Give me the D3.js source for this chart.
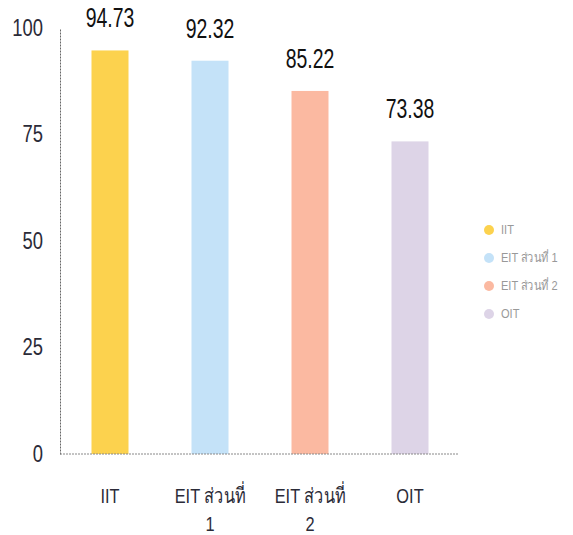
<!DOCTYPE html>
<html>
<head>
<meta charset="utf-8">
<script src="https://cdn.jsdelivr.net/npm/d3@7"></script>
<style>
  body { margin: 0; background: #fff; }
  text { font-family: "Liberation Sans", "Noto Sans", sans-serif; }
</style>
</head>
<body>
<div id="chart"></div>
<script>
// données
var categories = ["IIT", "EIT ส่วนที่ 1", "EIT ส่วนที่ 2", "OIT"];
var labelLines = [["IIT"], ["EIT ส่วนที่", "1"], ["EIT ส่วนที่", "2"], ["OIT"]];
var values = [94.73, 92.32, 85.22, 73.38];
var colors = ["#fcd24e", "#c4e2f8", "#fbb9a1", "#ddd4e7"];
var yTicks = [0, 25, 50, 75, 100];

var width = 573,
    height = 535;

// la police d'origine est étroite : on compresse horizontalement
var NARROW = 0.78;

var svg = d3.select("#chart")
    .append("svg")
    .attr("width", width)
    .attr("height", height);

var x = d3.scaleBand()
    .domain(categories)
    .range([60, 460])
    .paddingInner(0.63)
    .paddingOuter(0.315);

var y = d3.scaleLinear()
    .domain([0, 100])
    .range([454, 28]);

function cx(i) {
    return x(categories[i]) + x.bandwidth() / 2;
}

// axe vertical
var yAxis = svg.append("g")
    .attr("transform", "translate(60,0)")
    .call(d3.axisLeft(y).tickValues(yTicks).tickSize(0).tickPadding(17));
yAxis.select(".domain")
    .attr("stroke", "#666")
    .attr("stroke-dasharray", "2,1");
yAxis.selectAll("text")
    .attr("font-size", 23)
    .attr("fill", "#2b2b38")
    .attr("x", -17 / 0.8)
    .attr("transform", "scale(0.8,1)")
    .style("font-family", "'Liberation Sans', sans-serif");

// barres
svg.selectAll("rect.bar")
    .data(values)
    .enter()
    .append("rect")
    .attr("class", "bar")
    .attr("x", function (d, i) { return x(categories[i]); })
    .attr("y", function (d) { return y(d); })
    .attr("width", x.bandwidth())
    .attr("height", function (d) { return y(0) - y(d); })
    .attr("fill", function (d, i) { return colors[i]; });

// ligne de base
svg.append("line")
    .attr("x1", 60)
    .attr("x2", 458)
    .attr("y1", y(0))
    .attr("y2", y(0))
    .attr("stroke", "#888")
    .attr("stroke-dasharray", "2,1");

// valeurs au-dessus des barres
svg.selectAll("text.val")
    .data(values)
    .enter()
    .append("text")
    .attr("class", "val")
    .attr("transform", function (d, i) {
        return "translate(" + cx(i) + "," + (y(d) - 23) + ") scale(0.72,1)";
    })
    .attr("text-anchor", "middle")
    .attr("font-size", 27)
    .attr("fill", "#111")
    .text(function (d) { return d.toFixed(2); });

// étiquettes des catégories
var xl = svg.selectAll("g.cat")
    .data(labelLines)
    .enter()
    .append("g")
    .attr("class", "cat")
    .attr("transform", function (d, i) { return "translate(" + cx(i) + ",0) scale(" + NARROW + ",1)"; });
xl.selectAll("text")
    .data(function (d) { return d; })
    .enter()
    .append("text")
    .attr("x", 0)
    .attr("y", function (d, j) { return 503 + j * 28; })
    .attr("text-anchor", "middle")
    .attr("font-size", 21)
    .attr("fill", "#2b2b38")
    .text(function (d) { return d; });

// légende
var legend = svg.selectAll("g.leg")
    .data(categories)
    .enter()
    .append("g")
    .attr("class", "leg")
    .attr("transform", function (d, i) { return "translate(489," + (230 + i * 28) + ")"; });
legend.append("circle")
    .attr("r", 5)
    .attr("fill", function (d, i) { return colors[i]; });
legend.append("text")
    .attr("transform", "translate(12,4) scale(0.85,1)")
    .attr("font-size", 13)
    .attr("fill", "#999")
    .text(function (d) { return d; });
</script>
</body>
</html>
